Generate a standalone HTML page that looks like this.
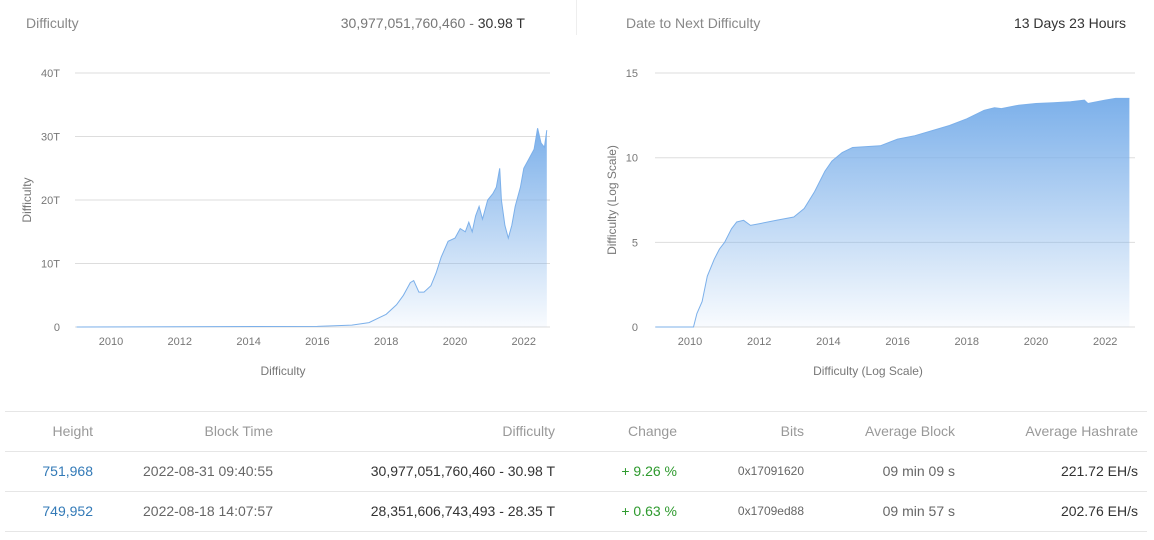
<!DOCTYPE html>
<html><head><meta charset="utf-8"><style>
body{margin:0;width:1154px;height:540px;background:#fff;font-family:"Liberation Sans",sans-serif;overflow:hidden;position:relative}
.t{position:absolute;white-space:nowrap;font-size:14px}
.hl{position:absolute;left:5px;width:1142px;height:1px;background:#e6e6e6}
</style></head><body>
<div class="t" style="left:26px;top:15px;color:#888">Difficulty</div>
<div class="t" style="right:629px;top:15px;color:#777">30,977,051,760,460 - <span style="color:#333">30.98 T</span></div>
<div style="position:absolute;left:576px;top:0;width:1px;height:35px;background:#eee"></div>
<div class="t" style="left:626px;top:15px;color:#888">Date to Next Difficulty</div>
<div class="t" style="right:28px;top:15px;color:#333">13 Days 23 Hours</div>
<svg id="s" width="1154" height="400" style="position:absolute;left:0;top:0" font-family="Liberation Sans, sans-serif" font-size="11" fill="#777">
<defs><linearGradient id="g" x1="0" y1="0" x2="0" y2="1"><stop offset="0" stop-color="#7cb0ea"/><stop offset="1" stop-color="#7cb0ea" stop-opacity="0.05"/></linearGradient></defs>
</svg>
<div class="hl" style="top:411px"></div><div class="hl" style="top:451px"></div><div class="hl" style="top:491px"></div><div class="hl" style="top:531px"></div>
<div id="tb"></div>
<script>
var s=document.getElementById('s'),h='';
function ln(x1,y1,x2,y2){h+='<line x1="'+x1+'" y1="'+y1+'" x2="'+x2+'" y2="'+y2+'" stroke="#ddd"/>';}
function tx(x,y,t,a,extra){h+='<text x="'+x+'" y="'+y+'" text-anchor="'+(a||'middle')+'" '+(extra||'')+'>'+t+'</text>';}
[0,10,20,30,40].forEach(function(v){var y=327-v*6.35;ln(75,y,550,y);tx(60,y+4,v?v+'T':'0','end');});
for(var yr=2010;yr<=2022;yr+=2)tx(111+(yr-2010)*34.4,345,yr);
tx(283,375,'Difficulty','middle','font-size="12"');
tx(31,200,'Difficulty','middle','font-size="12" transform="rotate(-90 31 200)"');
var L=[[2009,0],[2016,0.1],[2017,0.3],[2017.5,0.7],[2018,2],[2018.3,3.5],[2018.5,5],[2018.7,7],[2018.8,7.3],[2018.95,5.5],[2019.1,5.5],[2019.3,6.5],[2019.45,8.5],[2019.6,11],[2019.8,13.5],[2020,14],[2020.15,15.5],[2020.3,15],[2020.4,16.5],[2020.5,15],[2020.6,17.5],[2020.7,19],[2020.8,17],[2020.95,20],[2021.1,21],[2021.2,22],[2021.3,25],[2021.35,20],[2021.45,16],[2021.55,14],[2021.65,16],[2021.75,19],[2021.9,22],[2022,25],[2022.15,26.5],[2022.3,28],[2022.4,31.3],[2022.5,29],[2022.6,28.3],[2022.67,31]];
function area(P,fx,fy,base){var d='M'+fx(P[0][0])+','+base;P.forEach(function(p){d+=' L'+fx(p[0]).toFixed(1)+','+fy(p[1]).toFixed(1)});d+=' L'+fx(P[P.length-1][0])+','+base+'Z';
var l='M';P.forEach(function(p,i){l+=(i?' L':'')+fx(p[0]).toFixed(1)+','+fy(p[1]).toFixed(1)});
h+='<path d="'+d+'" fill="url(#g)"/><path d="'+l+'" fill="none" stroke="#7cb0ea" stroke-width="1"/>';}
area(L,function(x){return 111+(x-2010)*34.4},function(v){return 327-v*6.35},327);
[0,5,10,15].forEach(function(v){var y=327-v*16.93;ln(655,y,1135,y);tx(638,y+4,v,'end');});
for(var yr=2010;yr<=2022;yr+=2)tx(690+(yr-2010)*34.6,345,yr);
tx(868,375,'Difficulty (Log Scale)','middle','font-size="12"');
tx(616,200,'Difficulty (Log Scale)','middle','font-size="12" transform="rotate(-90 616 200)"');
var R=[[2009,0],[2010.1,0],[2010.2,0.8],[2010.35,1.5],[2010.5,3],[2010.7,4],[2010.85,4.6],[2011,5],[2011.2,5.8],[2011.35,6.2],[2011.55,6.3],[2011.75,6.0],[2012,6.1],[2012.5,6.3],[2013,6.5],[2013.3,7],[2013.6,8],[2013.9,9.2],[2014.1,9.8],[2014.4,10.3],[2014.7,10.6],[2015.5,10.7],[2016,11.1],[2016.5,11.3],[2017,11.6],[2017.5,11.9],[2018,12.3],[2018.5,12.8],[2018.8,12.95],[2019,12.9],[2019.5,13.1],[2020,13.2],[2020.5,13.25],[2021,13.3],[2021.4,13.4],[2021.5,13.2],[2022,13.4],[2022.3,13.5],[2022.7,13.5]];
area(R,function(x){return 690+(x-2010)*34.6},function(v){return 327-v*16.93},327);
s.innerHTML+=h;
var cols=[93,273,555,677,804,955,1138];
var rows=[['Height','Block Time','Difficulty','Change','Bits','Average Block','Average Hashrate'],
['751,968','2022-08-31 09:40:55','30,977,051,760,460 - 30.98 T','+ 9.26 %','0x17091620','09 min 09 s','221.72 EH/s'],
['749,952','2022-08-18 14:07:57','28,351,606,743,493 - 28.35 T','+ 0.63 %','0x1709ed88','09 min 57 s','202.76 EH/s']];
var tb='';
rows.forEach(function(r,i){var top=[423,463,503][i];r.forEach(function(c,j){
var col=i==0?'#999':(j==0?'#337ab7':j==3?'#2e9a2e':j==2||j==6?'#333':'#666');
var fs=j==4&&i>0?'12px':'14px';
tb+='<div class="t" style="right:'+(1154-cols[j])+'px;top:'+top+'px;color:'+col+';font-size:'+fs+';line-height:16px">'+c+'</div>';});});
document.getElementById('tb').innerHTML=tb;
</script>
</body></html>
